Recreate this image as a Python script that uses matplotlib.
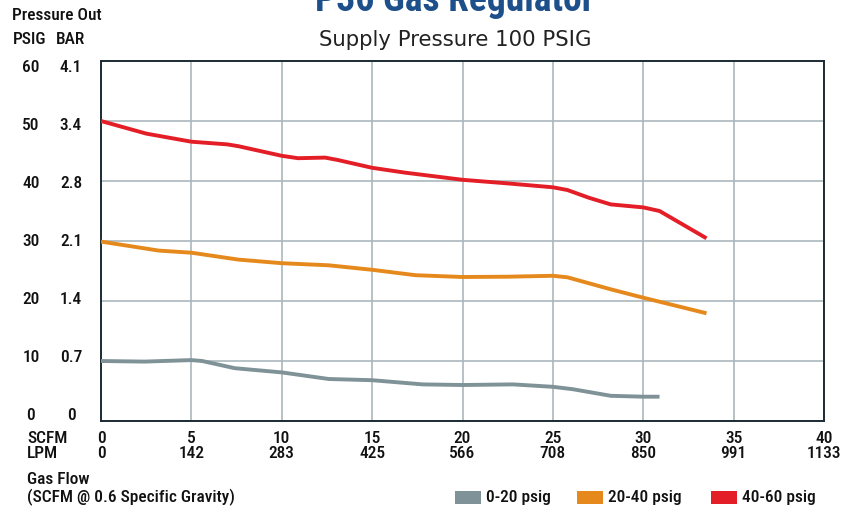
import matplotlib
matplotlib.use("Agg")
import matplotlib.pyplot as plt
from matplotlib.patches import Rectangle
import numpy as np

plt.rcParams["font.family"] = ["Roboto Condensed", "Liberation Sans Narrow", "Roboto", "DejaVu Sans"]

# Data
red_scfm = [0, 2.5, 5, 7, 7.6, 10, 10.9, 12.4, 13.1, 15, 16.8, 20, 22.5, 25, 25.8, 27, 28.2, 30, 30.9, 33.5]
red_psig = [50.0, 47.9, 46.55, 46.1, 45.8, 44.2, 43.8, 43.9, 43.5, 42.2, 41.4, 40.2, 39.6, 38.95, 38.5, 37.2, 36.1, 35.6, 35.0, 30.45]

orange_scfm = [0, 3.2, 5, 7.6, 10, 12.6, 15, 17.4, 20, 22.5, 25, 25.8, 28.2, 30, 33.5]
orange_psig = [29.9, 28.4, 28.05, 26.9, 26.3, 25.95, 25.2, 24.3, 24.0, 24.05, 24.2, 23.95, 21.95, 20.55, 17.95]

gray_scfm = [0, 2.4, 5, 5.6, 7.4, 10, 12.6, 15, 17.8, 20, 22.8, 25, 26.1, 28.2, 30, 30.9]
gray_psig = [10.0, 9.9, 10.15, 10.0, 8.8, 8.1, 7.0, 6.8, 6.1, 6.0, 6.1, 5.7, 5.3, 4.2, 4.05, 4.05]

psig_ticks = [0, 10, 20, 30, 40, 50, 60]
bar_labels = ["0", "0.7", "1.4", "2.1", "2.8", "3.4", "4.1"]
scfm_ticks = [0, 5, 10, 15, 20, 25, 30, 35, 40]
lpm_labels = ["0", "142", "283", "425", "566", "708", "850", "991", "1133"]

series = [
    ("0-20 psig", gray_scfm, gray_psig, "#7f9297"),
    ("20-40 psig", orange_scfm, orange_psig, "#e5891d"),
    ("40-60 psig", red_scfm, red_psig, "#e41e26"),
]

W, H = 842, 514
fig = plt.figure(figsize=(W / 100, H / 100), dpi=100)
ax = fig.add_axes([101 / W, 1 - 421 / H, 723 / W, 360 / H])

for label, xs, ys, color in series:
    ax.plot(xs, ys, color=color, lw=2.8, solid_capstyle="butt", solid_joinstyle="round", zorder=3)

ax.set_xlim(0, 40)
ax.set_ylim(0, 60)
ax.set_xticks(scfm_ticks)
ax.set_yticks(psig_ticks)
ax.tick_params(length=0, labelbottom=False, labelleft=False)
ax.grid(True, color="#a9b7bb", lw=1.2)
ax.set_axisbelow(True)
for s in ax.spines.values():
    s.set_color("#1c2b33")
    s.set_linewidth(1.4)

def fy(px):
    return 1 - px / H

def fx(px):
    return px / W

fs = 12.5
txt = dict(fontsize=fs, color="#111111", fontweight="medium")

# y labels (two columns)
for v, b in zip(psig_ticks, bar_labels):
    ypx = 415 - 5.8 * v
    fig.text(fx(31), fy(ypx), str(v), ha="center", va="center", **txt)
    fig.text(fx(71), fy(ypx), b, ha="center", va="center", **txt)
fig.text(fx(12), fy(16), "Pressure Out", ha="left", va="center", **txt)
fig.text(fx(13), fy(40), "PSIG", ha="left", va="center", **txt)
fig.text(fx(85), fy(40), "BAR", ha="right", va="center", **txt)

# x labels (two rows)
for v, l in zip(scfm_ticks, lpm_labels):
    xpx = 101 + 723 * v / 40
    fig.text(fx(xpx), fy(438.5), str(v), ha="center", va="center", **txt)
    fig.text(fx(xpx), fy(453.5), l, ha="center", va="center", **txt)
fig.text(fx(27), fy(438.5), "SCFM", ha="left", va="center", **txt)
fig.text(fx(27), fy(453.5), "LPM", ha="left", va="center", **txt)
fig.text(fx(27), fy(480), "Gas Flow", ha="left", va="center", **txt)
fig.text(fx(27), fy(497), "(SCFM @ 0.6 Specific Gravity)", ha="left", va="center", **txt)

# titles (the main title is cut by the top edge, as in the source)
fig.text(fx(455), fy(11), "P36 Gas Regulator", ha="center", va="baseline",
         fontsize=27, fontweight="bold", color="#1d4f8b")
fig.text(fx(455), fy(40), "Supply Pressure 100 PSIG", ha="center", va="center",
         fontsize=15.3, color="#222222", family=["DejaVu Sans"])

# legend
leg_x = [455, 577, 711]
for (label, xs, ys, color), x0 in zip(series, leg_x):
    fig.patches.append(Rectangle((fx(x0), fy(504)), 26 / W, 13 / H, transform=fig.transFigure,
                                 facecolor=color, edgecolor="none"))
    fig.text(fx(x0 + 31), fy(497.5), label, ha="left", va="center", **txt)

fig.savefig("out.png", dpi=100)
